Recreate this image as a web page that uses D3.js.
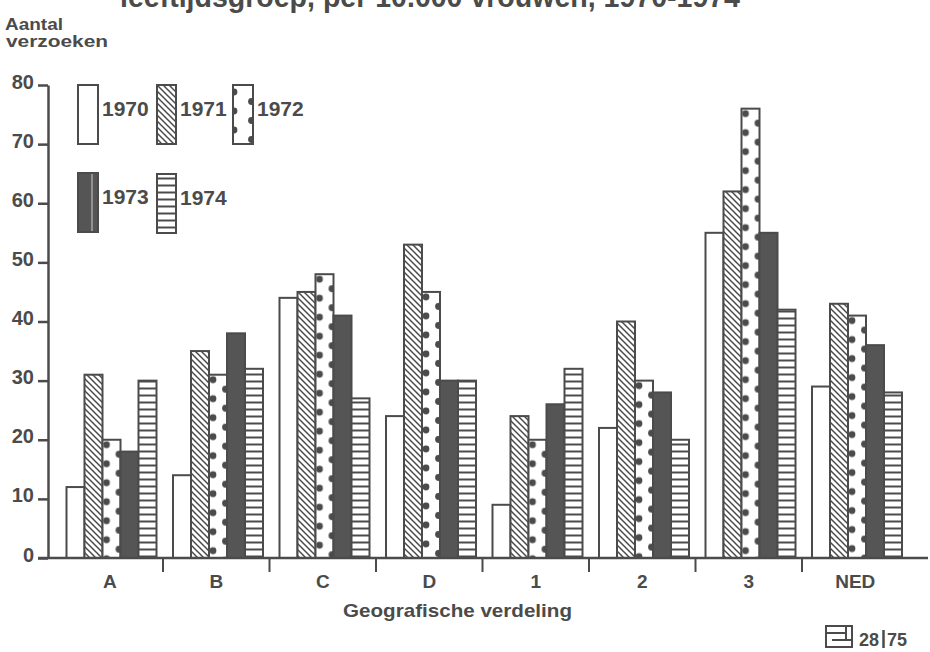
<!DOCTYPE html>
<html>
<head>
<meta charset="utf-8">
<script src="https://cdnjs.cloudflare.com/ajax/libs/d3/7.8.5/d3.min.js"></script>
<style>
html,body{margin:0;padding:0;background:#fff;}
svg{display:block;font-family:"Liberation Sans",Arial,Helvetica,sans-serif;}
</style>
</head>
<body>
<svg id="chart" width="930" height="652"></svg>
<script>
// ---- data ----
const groups = ["A", "B", "C", "D", "1", "2", "3", "NED"];
const years = ["1970", "1971", "1972", "1973", "1974"];
const v1970 = [12, 14, 44, 24, 9, 22, 55, 29];
const v1971 = [31, 35, 45, 53, 24, 40, 62, 43];
const v1972 = [20, 31, 48, 45, 20, 30, 76, 41];
const v1973 = [18, 38, 41, 30, 26, 28, 55, 36];
const v1974 = [30, 32, 27, 30, 32, 20, 42, 28];
const yTicks = [0, 10, 20, 30, 40, 50, 60, 70, 80];
const yTitle = ["Aantal", "verzoeken"];
const xTitle = "Geografische verdeling";
const pageTitle = "leeftijdsgroep, per 10.000 vrouwen, 1970-1974";
const pageNumber = ["28", "75"];

const seriesValues = {"1970": v1970, "1971": v1971, "1972": v1972, "1973": v1973, "1974": v1974};

const ink = "#4b4b4b";
const solid = "#555555";

const svg = d3.select("#chart");
const defs = svg.append("defs");

// hatch for 1971
const hatch = defs.append("pattern").attr("id", "hatch").attr("patternUnits", "userSpaceOnUse")
  .attr("width", 6).attr("height", 6);
hatch.append("rect").attr("width", 6).attr("height", 6).attr("fill", "#fff");
hatch.append("path").attr("d", "M-1.5,4.5 L1.5,7.5 M0,0 L6,6 M4.5,-1.5 L7.5,1.5")
  .attr("stroke", ink).attr("stroke-width", 1.5);

// horizontal stripes for 1974
const stripes = defs.append("pattern").attr("id", "stripes").attr("patternUnits", "userSpaceOnUse")
  .attr("width", 10).attr("height", 7);
stripes.append("rect").attr("width", 10).attr("height", 7).attr("fill", "#fff");
stripes.append("line").attr("x1", 0).attr("x2", 10).attr("y1", 3.5).attr("y2", 3.5)
  .attr("stroke", ink).attr("stroke-width", 2);

let dotId = 0;
function dotPattern(x, y0, w) {
  const id = "dots" + (dotId++);
  const p = defs.append("pattern").attr("id", id).attr("patternUnits", "userSpaceOnUse")
    .attr("x", x).attr("y", y0).attr("width", w).attr("height", 19);
  p.append("rect").attr("width", w).attr("height", 19).attr("fill", "#fff");
  p.append("circle").attr("cx", 4).attr("cy", 5).attr("r", 3.4).attr("fill", ink);
  p.append("circle").attr("cx", w - 1.5).attr("cy", 14.5).attr("r", 3.4).attr("fill", ink);
  return "url(#" + id + ")";
}

function fillFor(year, x, y0, w) {
  if (year === "1970") return "#fff";
  if (year === "1971") return "url(#hatch)";
  if (year === "1972") return dotPattern(x, y0, w);
  if (year === "1973") return solid;
  return "url(#stripes)";
}

// ---- scales ----
const x0 = d3.scaleBand().domain(groups).range([56.5, 908.5]);
const x1 = d3.scaleBand().domain(years).range([10, 100]);
const y = d3.scaleLinear().domain([0, 80]).range([558, 85]);

// ---- page title (clipped at top, as in the scanned page) ----
svg.append("text").attr("x", 120).attr("y", 7)
  .attr("textLength", 620).attr("lengthAdjust", "spacingAndGlyphs")
  .attr("font-size", 30).attr("font-weight", "bold").attr("fill", ink)
  .text(pageTitle);

// ---- y title ----
svg.append("text").attr("x", 5).attr("y", 30).attr("font-size", 16).attr("font-weight", "bold")
  .attr("fill", ink).attr("textLength", 58).attr("lengthAdjust", "spacingAndGlyphs").text(yTitle[0]);
svg.append("text").attr("x", 6).attr("y", 47).attr("font-size", 16).attr("font-weight", "bold")
  .attr("fill", ink).attr("textLength", 102).attr("lengthAdjust", "spacingAndGlyphs").text(yTitle[1]);

// ---- bars ----
const gBars = svg.append("g");
groups.forEach((g, gi) => {
  years.forEach(yr => {
    const v = seriesValues[yr][gi];
    const bx = x0(g) + x1(yr);
    const bw = x1.bandwidth();
    const by = y(v);
    gBars.append("rect")
      .attr("x", bx).attr("y", by).attr("width", bw).attr("height", y(0) - by)
      .attr("fill", fillFor(yr, bx, by, bw))
      .attr("stroke", ink).attr("stroke-width", 2);
  });
});

// ---- y axis ----
const yAxis = d3.axisLeft(y).tickValues(yTicks).tickSize(10).tickSizeOuter(0).tickFormat(d3.format("d"));
const gy = svg.append("g").attr("transform", "translate(48,0)").call(yAxis);
gy.select(".domain").attr("stroke", ink).attr("stroke-width", 2.5);
gy.selectAll(".tick line").attr("stroke", ink).attr("stroke-width", 2.5);
gy.selectAll(".tick text").attr("x", -14).attr("dy", "0.15em")
  .attr("font-size", 20).attr("font-weight", "bold").attr("fill", ink)
  .attr("font-family", "Liberation Sans, Arial, sans-serif");

// ---- x axis ----
svg.append("line").attr("x1", 38).attr("x2", 928).attr("y1", y(0)).attr("y2", y(0))
  .attr("stroke", ink).attr("stroke-width", 2.5);
const xAxis = d3.axisBottom(x0).tickSize(0).tickSizeOuter(0);
const gx = svg.append("g").attr("transform", "translate(0," + y(0) + ")").call(xAxis);
gx.select(".domain").remove();
gx.selectAll(".tick text").attr("y", 0).attr("dy", 30)
  .attr("font-size", 19).attr("font-weight", "bold").attr("fill", ink)
  .attr("font-family", "Liberation Sans, Arial, sans-serif");
// separators between groups
svg.append("g").selectAll("line").data(groups.slice(1)).join("line")
  .attr("x1", d => x0(d)).attr("x2", d => x0(d))
  .attr("y1", y(0)).attr("y2", y(0) + 14)
  .attr("stroke", ink).attr("stroke-width", 2);

// x title
svg.append("text").attr("x", 343).attr("y", 617)
  .attr("textLength", 229).attr("lengthAdjust", "spacingAndGlyphs")
  .attr("font-size", 19).attr("font-weight", "bold").attr("fill", ink).text(xTitle);

// ---- legend ----
const legendPos = [
  {yr: "1970", x: 78, y: 85, w: 20},
  {yr: "1971", x: 157, y: 85, w: 19},
  {yr: "1972", x: 233, y: 85, w: 20},
  {yr: "1973", x: 78, y: 173, w: 20},
  {yr: "1974", x: 157, y: 174, w: 19}
];
const gLeg = svg.append("g");
legendPos.forEach(l => {
  gLeg.append("rect").attr("x", l.x).attr("y", l.y).attr("width", l.w).attr("height", 59)
    .attr("fill", l.yr === "1972" ? dotPattern(l.x - 3, l.y + 2, l.w + 3) : fillFor(l.yr, l.x, l.y, l.w))
    .attr("stroke", ink).attr("stroke-width", 2);
  if (l.yr === "1973") {
    gLeg.append("line").attr("x1", l.x + 14).attr("x2", l.x + 14).attr("y1", l.y + 1).attr("y2", l.y + 58)
      .attr("stroke", "#cfcfcf").attr("stroke-width", 1);
  }
  gLeg.append("text").attr("x", l.x + l.w + 4).attr("y", l.y + 31)
    .attr("font-size", 21).attr("font-weight", "bold").attr("fill", ink).text(l.yr);
});

// ---- page number ----
const gp = svg.append("g");
gp.append("rect").attr("x", 826).attr("y", 626).attr("width", 26).attr("height", 21)
  .attr("fill", "none").attr("stroke", ink).attr("stroke-width", 2);
gp.append("line").attr("x1", 826).attr("x2", 846).attr("y1", 633).attr("y2", 633).attr("stroke", ink).attr("stroke-width", 2);
gp.append("line").attr("x1", 832).attr("x2", 852).attr("y1", 640).attr("y2", 640).attr("stroke", ink).attr("stroke-width", 2);
gp.append("line").attr("x1", 846).attr("x2", 846).attr("y1", 626).attr("y2", 640).attr("stroke", ink).attr("stroke-width", 2);
gp.append("text").attr("x", 859).attr("y", 646).attr("font-size", 18).attr("font-weight", "bold").attr("fill", ink).text(pageNumber[0]);
gp.append("line").attr("x1", 883.5).attr("x2", 883.5).attr("y1", 630).attr("y2", 648).attr("stroke", ink).attr("stroke-width", 2.5);
gp.append("text").attr("x", 887).attr("y", 646).attr("font-size", 18).attr("font-weight", "bold").attr("fill", ink).text(pageNumber[1]);
</script>
</body>
</html>
